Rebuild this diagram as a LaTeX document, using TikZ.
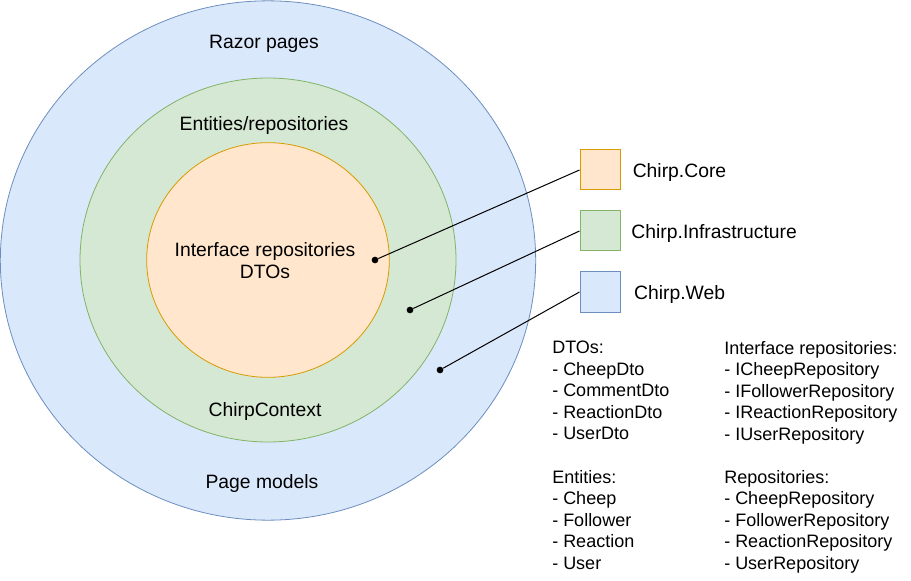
\documentclass[tikz,border=0pt]{standalone}
\usepackage{fontspec}
\setmainfont{Liberation Sans}
\usetikzlibrary{shapes.geometric,positioning}

\definecolor{coreFill}{HTML}{FFE6CC}
\definecolor{coreLine}{HTML}{D79B00}
\definecolor{infraFill}{HTML}{D5E8D4}
\definecolor{infraLine}{HTML}{82B366}
\definecolor{webFill}{HTML}{DAE8FC}
\definecolor{webLine}{HTML}{6C8EBF}

\begin{document}
\begin{tikzpicture}[x=0.75pt,y=-0.75pt,node distance=15pt,
	layer node/.style={draw, ellipse, inner sep=0pt, line width=0.6pt},
	key node/.style={draw, minimum size=30pt, inner sep=0pt, line width=0.75pt},
	dot node/.style={circle, fill=black, inner sep=0pt, minimum size=5pt},
	big text/.style={font=\fontsize{14.5}{16.5}\selectfont, align=center},
	list text/.style={font=\fontsize{13.5}{16.1}\selectfont, align=left, anchor=north west, inner sep=0pt}]
	\useasboundingbox (0,0) rectangle (911,581);
	
	% layers
	\node[layer node, fill=webFill, draw=webLine, minimum width=401.5pt, minimum height=389.5pt] (1) at (268,260.5) {};
	\node[layer node, fill=infraFill, draw=infraLine, minimum width=282pt, minimum height=273pt] (2) at (268,260) {};
	\node[layer node, fill=coreFill, draw=coreLine, minimum width=182pt, minimum height=176pt] (3) at (268,260) {};
	
	\node[big text] (razor) at (264,44) {Razor pages};
	\node[big text] (entities) at (264,126) {Entities/repositories};
	\node[big text] (inner) at (265,261) {Interface repositories\\DTOs};
	\node[big text] (context) at (265,412) {ChirpContext};
	\node[big text] (pagemodels) at (262,484) {Page models};
	
	% legend
	\node[key node, fill=coreFill, draw=coreLine] (4) at (600,170) {};
	\node[key node, fill=infraFill, draw=infraLine] (5) [below=of 4] {};
	\node[key node, fill=webFill, draw=webLine] (6) [below=of 5] {};
	\node[big text, anchor=west, inner sep=0pt] (core) [right=9pt of 4, yshift=-2.25pt] {Chirp.Core};
	\node[big text, anchor=west, inner sep=0pt] (infra) [right=8pt of 5, yshift=-2.25pt] {Chirp.Infrastructure};
	\node[big text, anchor=west, inner sep=0pt] (web) [right=10pt of 6, yshift=-2.25pt] {Chirp.Web};
	
	\node[dot node] (7) at (375,260) {};
	\node[dot node] (8) at (410,310) {};
	\node[dot node] (9) at (440,370) {};
	
	\path[line width=0.75pt]
	(7) edge (4.west)
	(8) edge (5.west)
	(9) edge (6.west);
	
	% lists
	\node[list text] (dtos) at (552,341) {DTOs:\\- CheepDto\\- CommentDto\\- ReactionDto\\- UserDto};
	\node[list text] (irepos) at (724,341) {Interface repositories:\\- ICheepRepository\\- IFollowerRepository\\- IReactionRepository\\- IUserRepository};
	\node[list text] (ents) at (552,470) {Entities:\\- Cheep\\- Follower\\- Reaction\\- User};
	\node[list text] (repos) at (724,470) {Repositories:\\- CheepRepository\\- FollowerRepository\\- ReactionRepository\\- UserRepository};
\end{tikzpicture}
\end{document}
